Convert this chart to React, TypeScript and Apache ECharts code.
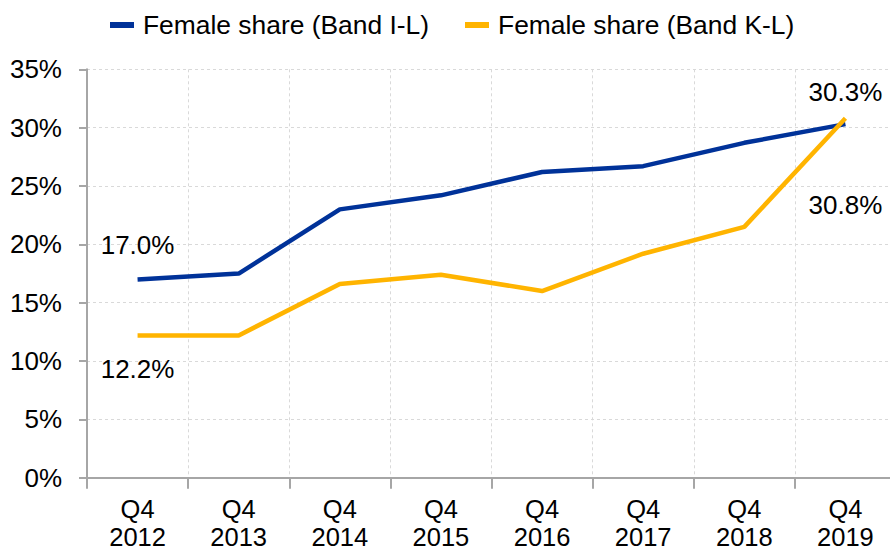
import React, { useEffect, useRef } from "react";
import * as echarts from "echarts";

const categories = ["Q4\n2012", "Q4\n2013", "Q4\n2014", "Q4\n2015", "Q4\n2016", "Q4\n2017", "Q4\n2018", "Q4\n2019"];
const bandIL = [17.0, 17.5, 23.0, 24.2, 26.2, 26.7, 28.7, 30.3];
const bandKL = [12.2, 12.2, 16.6, 17.4, 16.0, 19.2, 21.5, 30.8];
const seriesNames = ["Female share (Band I-L)", "Female share (Band K-L)"];
const yTicks = { min: 0, max: 35, interval: 5 };

const FONT = "'Liberation Sans', Arial, sans-serif";
const FS = 26;

export default function App() {
  const ref = useRef<HTMLDivElement>(null);
  useEffect(() => {
    document.body.style.margin = "0";
    const chart = echarts.init(ref.current!, null, { renderer: "svg" });
    const lastIdx = bandIL.length - 1;
    const labelFmt = (p: any) => Number(p.value).toFixed(1) + "%";
    chart.setOption({
      animation: false,
      backgroundColor: "#ffffff",
      textStyle: { fontFamily: FONT, color: "#000" },
      legend: {
        left: 105,
        top: 7,
        icon: "rect",
        itemWidth: 24,
        itemHeight: 6,
        itemGap: 36,
        textStyle: { fontFamily: FONT, fontSize: 26.4, color: "#000", padding: [0, 0, 0, 4] },
        data: seriesNames,
      },
      grid: {
        left: 87,
        top: 69.3,
        width: 809,
        height: 408.5,
        containLabel: false,
        outerBoundsMode: "none",
      },
      xAxis: {
        type: "category",
        data: categories,
        boundaryGap: true,
        axisLine: { lineStyle: { color: "#a6a6a6", width: 2 } },
        axisTick: { show: true, length: 11, lineStyle: { color: "#a6a6a6", width: 2 } },
        axisLabel: { fontFamily: FONT, fontSize: 25.5, color: "#000", margin: 17, lineHeight: 28, interval: 0 },
        splitLine: { show: true, lineStyle: { color: "#d9d9d9", type: [3, 3], width: 1 } },
      },
      yAxis: {
        type: "value",
        min: yTicks.min,
        max: yTicks.max,
        interval: yTicks.interval,
        axisLine: { show: true, lineStyle: { color: "#a6a6a6", width: 2 } },
        axisTick: { show: true, length: 8, lineStyle: { color: "#a6a6a6", width: 2 } },
        axisLabel: { fontFamily: FONT, fontSize: FS, color: "#000", margin: 25, formatter: "{value}%" },
        splitLine: { show: true, lineStyle: { color: "#d9d9d9", type: [3, 3], width: 1 } },
      },
      series: [
        {
          name: seriesNames[0],
          type: "line",
          showSymbol: true,
          symbol: "circle",
          symbolSize: 0,
          data: bandIL.map((v, i) => ({
            value: v,
            label: {
              show: i === 0 || i === lastIdx,
              position: "top",
              distance: i === 0 ? 21 : 19,
              formatter: labelFmt,
              fontFamily: FONT,
              fontSize: FS,
              color: "#000",
            },
          })),
          lineStyle: { color: "#003299", width: 4.5 },
          itemStyle: { color: "#003299" },
          z: 3,
        },
        {
          name: seriesNames[1],
          type: "line",
          showSymbol: true,
          symbol: "circle",
          symbolSize: 0,
          data: bandKL.map((v, i) => ({
            value: v,
            label: {
              show: i === 0 || i === lastIdx,
              position: "bottom",
              distance: i === 0 ? 21 : 74,
              formatter: labelFmt,
              fontFamily: FONT,
              fontSize: FS,
              color: "#000",
            },
          })),
          lineStyle: { color: "#FFB400", width: 4.5 },
          itemStyle: { color: "#FFB400" },
          z: 4,
        },
      ],
    });
    return () => chart.dispose();
  }, []);
  return <div ref={ref} style={{ position: "absolute", left: 0, top: 0, width: 890, height: 551 }} />;
}
